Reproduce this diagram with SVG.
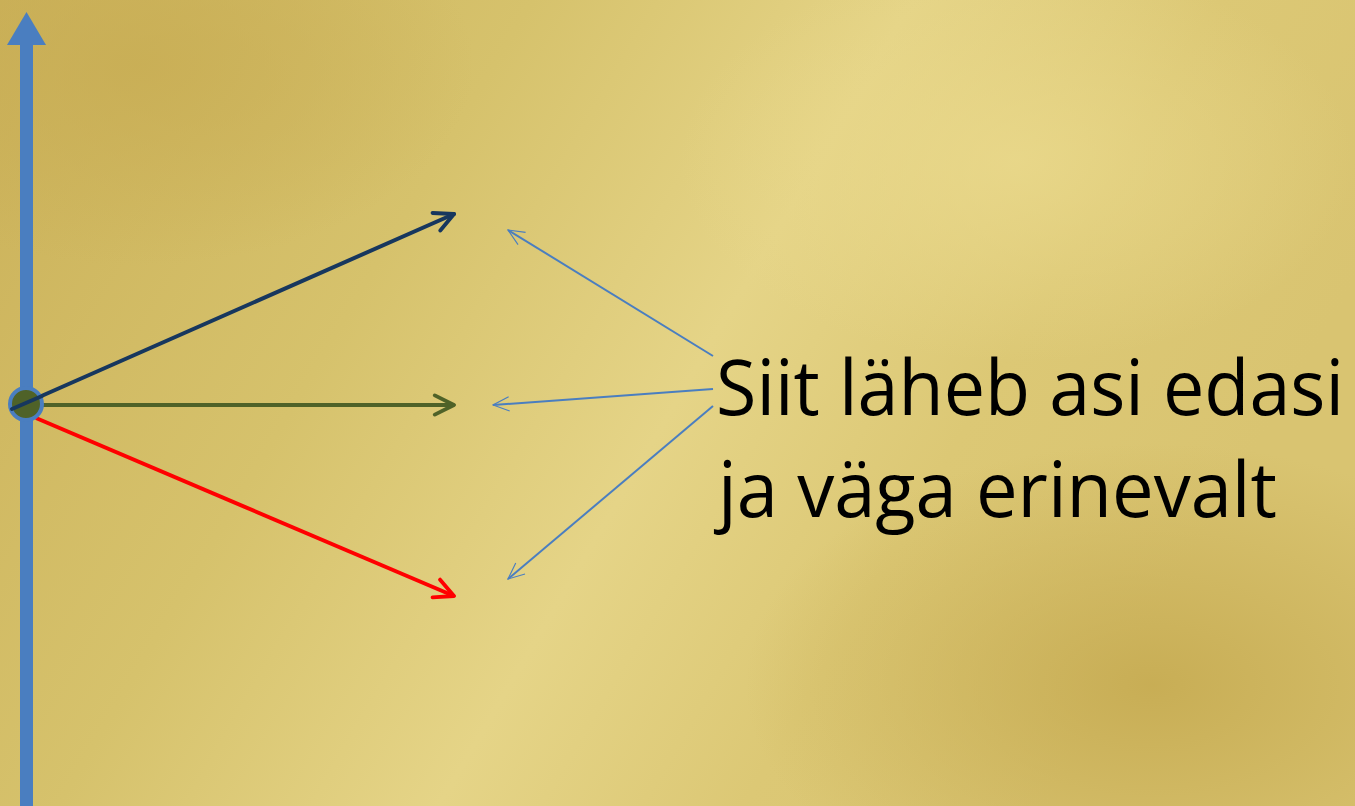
<svg xmlns="http://www.w3.org/2000/svg" width="1355" height="806" viewBox="0 0 1355 806">
<defs>
<linearGradient id="bg" x1="0" y1="0" x2="1" y2="0.35">
<stop offset="0" stop-color="#CBB159"/>
<stop offset="0.35" stop-color="#D6C26C"/>
<stop offset="0.6" stop-color="#E5D487"/>
<stop offset="0.8" stop-color="#DCC875"/>
<stop offset="1" stop-color="#D9C471"/>
</linearGradient>
<radialGradient id="dk1" cx="0.85" cy="0.85" r="0.3">
<stop offset="0" stop-color="#C6AB52" stop-opacity="0.9"/>
<stop offset="1" stop-color="#C6AB52" stop-opacity="0"/>
</radialGradient>
<radialGradient id="dk2" cx="0.1" cy="0.08" r="0.25">
<stop offset="0" stop-color="#C8AD54" stop-opacity="0.8"/>
<stop offset="1" stop-color="#C8AD54" stop-opacity="0"/>
</radialGradient>
<radialGradient id="lt1" cx="0.75" cy="0.2" r="0.25">
<stop offset="0" stop-color="#EAD98C" stop-opacity="0.8"/>
<stop offset="1" stop-color="#EAD98C" stop-opacity="0"/>
</radialGradient>
<marker id="open" viewBox="0 0 10 10" refX="9" refY="5" markerWidth="6" markerHeight="6" orient="auto" markerUnits="strokeWidth">
<path d="M1,1 L9,5 L1,9" fill="none" stroke="context-stroke" stroke-width="1.6" stroke-linecap="round" stroke-linejoin="round"/>
</marker>
<marker id="thin" viewBox="0 0 20 20" refX="19" refY="10" markerWidth="9" markerHeight="9" orient="auto" markerUnits="strokeWidth">
<path d="M1,2 L19,10 L1,18" fill="none" stroke="#4A7EC0" stroke-width="1.3"/>
</marker>
<style>
.t{font-family:"Open Sans","Liberation Sans",sans-serif;font-size:77px;fill:#000}
.ptr{fill:none;stroke:#4A7EC0;stroke-width:2}
</style>
</defs>
<rect width="1355" height="806" fill="url(#bg)"/>
<rect width="1355" height="806" fill="url(#dk1)"/>
<rect width="1355" height="806" fill="url(#dk2)"/>
<rect width="1355" height="806" fill="url(#lt1)"/>

<g id="axis">
<rect x="20" y="44" width="13" height="762" fill="#4A7EC0"/>
<polygon points="26.5,12 46,45 7,45" fill="#4A7EC0"/>
</g>

<g id="connectors">
<line x1="12" y1="409" x2="454" y2="214" stroke="#17375E" stroke-width="4" stroke-linecap="round" marker-end="url(#open)"/>
<line x1="30" y1="405" x2="454" y2="405" stroke="#4F6228" stroke-width="4" marker-end="url(#open)"/>
<line x1="36" y1="418" x2="454" y2="596" stroke="#FF0000" stroke-width="4" marker-end="url(#open)"/>
<line class="ptr" x1="713" y1="356" x2="508" y2="230" marker-end="url(#thin)"/>
<line class="ptr" x1="713" y1="389" x2="493" y2="405" marker-end="url(#thin)"/>
<line class="ptr" x1="713" y1="406" x2="508" y2="579" marker-end="url(#thin)"/>
</g>

<g id="origin">
<circle cx="26" cy="404" r="16" fill="#4F6228" stroke="#4A7EC0" stroke-width="4"/>
<line x1="12" y1="409" x2="42" y2="396" stroke="#17375E" stroke-width="4" stroke-linecap="round"/>
</g>

<g id="label">
<text class="t" x="716" y="415" textLength="628" lengthAdjust="spacingAndGlyphs">Siit läheb asi edasi</text>
<text class="t" x="718" y="517" textLength="559" lengthAdjust="spacingAndGlyphs">ja väga erinevalt</text>
</g>
</svg>
